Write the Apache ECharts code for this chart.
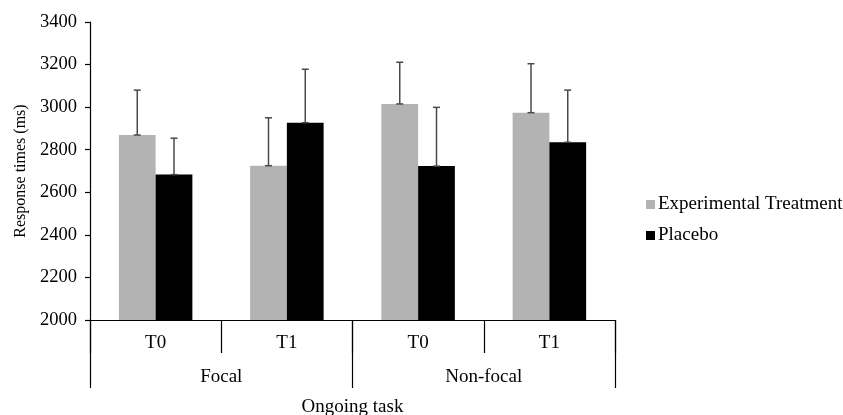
<!DOCTYPE html>
<html>
<head>
<meta charset="utf-8">
<script src="https://cdn.jsdelivr.net/npm/echarts@6/dist/echarts.min.js"></script>
<style>html,body{margin:0;padding:0;background:#fff;}#c{width:843px;height:415px;}</style>
</head>
<body>
<div id="c"></div>
<script>
var categories = ['T0', 'T1', 'T0', 'T1'];
var groups = ['Focal', 'Non-focal'];
var yTicks = [2000, 3400, 200];
var expMean = [2869, 2725, 3015, 2974];
var expUpper = [3080, 2950, 3211, 3204];
var placeboMean = [2683, 2927, 2723, 2835];
var placeboUpper = [2854, 3178, 2999, 3080];
var seriesNames = ['Experimental Treatment', 'Placebo'];

var FONT = '"Liberation Serif", "Times New Roman", serif';
var BAR_PCT = 0.28;

function errSeries(mean, upper, side) {
  var data = mean.map(function (m, i) { return [i, m, upper[i]]; });
  return {
    type: 'custom',
    xAxisIndex: 0,
    silent: true,
    z: 5,
    data: data,
    encode: { x: 0, y: [1, 2] },
    renderItem: function (params, api) {
      var idx = api.value(0);
      var catW = api.size([1, 0])[0];
      var bw = catW * BAR_PCT;
      var lo = api.coord([idx, api.value(1)]);
      var hi = api.coord([idx, api.value(2)]);
      var x = lo[0] + side * bw / 2;
      var cap = 3.5;
      var st = { stroke: '#4a4a4a', lineWidth: 1.5 };
      return {
        type: 'group',
        children: [
          { type: 'line', shape: { x1: x, y1: lo[1], x2: x, y2: hi[1] }, style: st },
          { type: 'line', shape: { x1: x - cap, y1: hi[1], x2: x + cap, y2: hi[1] }, style: st },
          { type: 'line', shape: { x1: x - cap, y1: lo[1], x2: x + cap, y2: lo[1] }, style: st }
        ]
      };
    }
  };
}

var chart = echarts.init(document.getElementById('c'), null, { renderer: 'canvas' });
chart.setOption({
  animation: false,
  backgroundColor: '#fff',
  textStyle: { fontFamily: FONT },
  grid: { left: 90, right: 228, top: 22, bottom: 95, containLabel: false, outerBoundsMode: 'none' },
  legend: {
    orient: 'vertical',
    left: 641,
    top: 190,
    itemWidth: 9,
    itemHeight: 9,
    itemGap: 12,
    icon: 'rect',
    data: seriesNames,
    textStyle: { fontFamily: FONT, fontSize: 19, color: '#000', padding: [0, 0, 0, -2] }
  },
  xAxis: [
    {
      type: 'category',
      data: categories,
      position: 'bottom',
      boundaryGap: true,
      axisLine: { show: true, lineStyle: { color: '#000', width: 1.2 } },
      axisTick: { show: true, interval: 0, length: 33, lineStyle: { color: '#000', width: 1.2 } },
      axisLabel: { interval: 0, fontFamily: FONT, fontSize: 19, color: '#000', margin: 14 },
      splitLine: { show: false }
    },
    {
      type: 'category',
      data: groups,
      position: 'bottom',
      boundaryGap: true,
      axisLine: { show: false },
      axisTick: { show: true, interval: 0, length: 68, lineStyle: { color: '#000', width: 1.2 } },
      axisLabel: { interval: 0, fontFamily: FONT, fontSize: 19, color: '#000', margin: 48 },
      splitLine: { show: false },
      name: 'Ongoing task',
      nameLocation: 'middle',
      nameGap: 78,
      nameTextStyle: { fontFamily: FONT, fontSize: 19, color: '#000' }
    }
  ],
  yAxis: {
    type: 'value',
    min: yTicks[0],
    max: yTicks[1],
    interval: yTicks[2],
    name: 'Response times (ms)',
    nameLocation: 'middle',
    nameGap: 60,
    nameTextStyle: { fontFamily: FONT, fontSize: 16, color: '#000' },
    axisLine: { show: true, lineStyle: { color: '#000', width: 1.2 } },
    axisTick: { show: true, length: 5, lineStyle: { color: '#000', width: 1.2 } },
    axisLabel: { fontFamily: FONT, fontSize: 18.5, color: '#000', margin: 13, formatter: function (v) { return String(v); } },
    splitLine: { show: false }
  },
  series: [
    {
      name: seriesNames[0],
      type: 'bar',
      xAxisIndex: 0,
      data: expMean,
      barWidth: (BAR_PCT * 100) + '%',
      barGap: '0%',
      itemStyle: { color: '#b3b3b3' }
    },
    {
      name: seriesNames[1],
      type: 'bar',
      xAxisIndex: 0,
      data: placeboMean,
      barWidth: (BAR_PCT * 100) + '%',
      barGap: '0%',
      itemStyle: { color: '#000' }
    },
    errSeries(expMean, expUpper, -1),
    errSeries(placeboMean, placeboUpper, 1)
  ]
});
</script>
</body>
</html>
